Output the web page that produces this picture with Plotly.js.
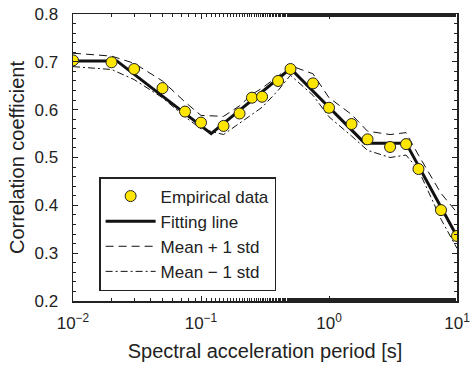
<!DOCTYPE html>
<html><head><meta charset="utf-8">
<script src="https://cdn.plot.ly/plotly-3.0.1.min.js"></script>
<style>html,body{margin:0;padding:0;background:#fff}#chart{width:472px;height:367px}</style>
</head><body><div id="chart"></div>
<script>
// Empirical data
const periods = [0.01,0.02,0.03,0.05,0.075,0.1,0.15,0.2,0.25,0.3,0.4,0.5,0.75,1.0,1.5,2,3,4,5,7.5,10];
const empirical = [0.703,0.699,0.685,0.645,0.596,0.573,0.566,0.592,0.625,0.627,0.660,0.685,0.655,0.604,0.570,0.538,0.522,0.528,0.476,0.390,0.336];
// Fitting line knots
const fitPeriods = [0.01,0.022,0.12,0.5,1.9,4.0,10];
const fitValues = [0.702,0.702,0.550,0.686,0.530,0.530,0.335];
// Mean +/- 1 std at data periods
const upperStd = [0.718,0.712,0.697,0.660,0.616,0.588,0.586,0.608,0.632,0.645,0.670,0.692,0.675,0.625,0.590,0.555,0.548,0.552,0.505,0.425,0.385];
const lowerStd = [0.690,0.684,0.663,0.625,0.585,0.560,0.548,0.572,0.590,0.605,0.640,0.672,0.630,0.585,0.545,0.515,0.500,0.505,0.474,0.371,0.310];
const xTickVals = [0.01,0.1,1,10];
const xTickText = ['10<sup>−2</sup>','10<sup>−1</sup>','10<sup>0</sup>','10<sup>1</sup>'];

const font = {family:'"Liberation Sans", Arial, sans-serif', color:'#222'};
const traces = [
  {x:periods, y:upperStd, mode:'lines', name:'Mean + 1 std', line:{color:'#111', width:1, dash:'8px,5px'}, legendrank:3},
  {x:periods, y:lowerStd, mode:'lines', name:'Mean − 1 std', line:{color:'#111', width:1, dash:'7px,3px,2px,3px'}, legendrank:4},
  {x:fitPeriods, y:fitValues, mode:'lines', name:'Fitting line', line:{color:'#111', width:3}, legendrank:2},
  {x:periods, y:empirical, mode:'markers', name:'Empirical data', marker:{symbol:'circle', size:11, color:'#FFE600', line:{color:'#222', width:1}}, legendrank:1}
];
const layout = {
  width:472, height:367,
  margin:{l:73, r:15, t:14, b:66},
  paper_bgcolor:'#fff', plot_bgcolor:'#fff',
  font:Object.assign({size:17}, font),
  showlegend:true,
  legend:{x:0.068, y:0.432, xanchor:'left', yanchor:'top', bgcolor:'#fff', bordercolor:'#222', borderwidth:1.5, font:Object.assign({size:17}, font), tracegroupgap:0, itemwidth:50},
  xaxis:{type:'log', range:[-2,1], tickvals:xTickVals, ticktext:xTickText, ticks:'inside', ticklen:5, tickcolor:'#222',
    showline:true, linecolor:'#222', linewidth:1.5, mirror:'ticks', showgrid:false, zeroline:false,
    minor:{ticks:'inside', ticklen:3, tickcolor:'#222', showgrid:false},
    tickfont:Object.assign({size:17}, font), ticklabelstandoff:6,
    title:{text:'Spectral acceleration period [s]', font:Object.assign({size:20}, font), standoff:12}},
  yaxis:{range:[0.2,0.8], dtick:0.1, tickformat:'.1f', ticks:'inside', ticklen:5, tickcolor:'#222',
    showline:true, linecolor:'#222', linewidth:1.5, mirror:'ticks', showgrid:false, zeroline:false,
    minor:{dtick:0.02, ticks:'inside', ticklen:3, tickcolor:'#222', showgrid:false},
    tickfont:Object.assign({size:17}, font), ticklabelstandoff:10,
    title:{text:'Correlation coefficient', font:Object.assign({size:20}, font), standoff:4}}
};
Plotly.newPlot('chart', traces, layout, {displayModeBar:false, staticPlot:true});
</script></body></html>
